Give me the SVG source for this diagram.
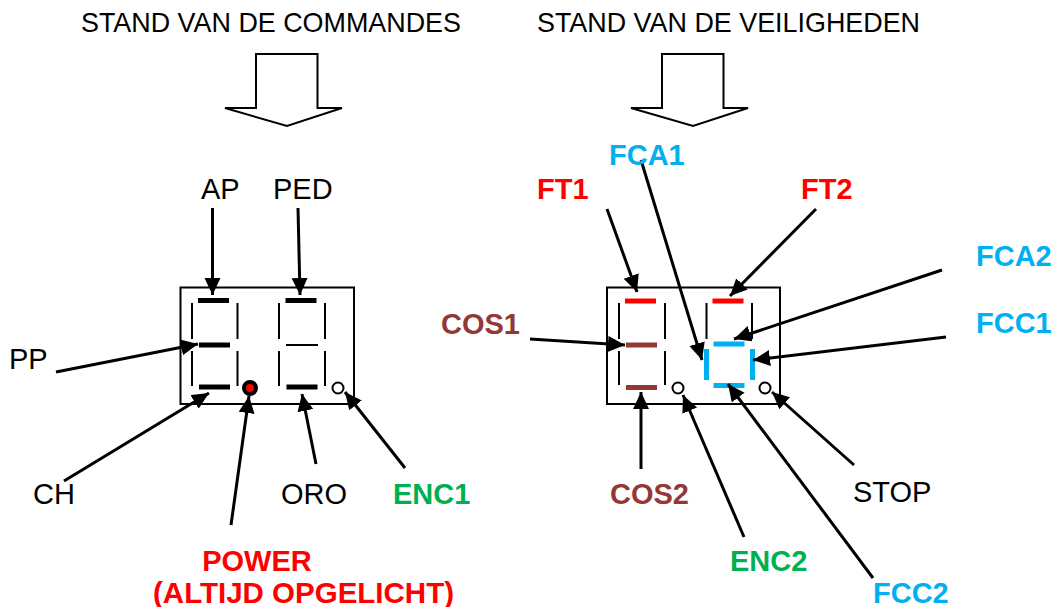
<svg xmlns="http://www.w3.org/2000/svg" width="1053" height="607" viewBox="0 0 1053 607">
<style>
text{font-family:"Liberation Sans",Arial,sans-serif;font-size:29px;fill:#000}
.t{font-size:26.900px}
.w{font-size:29.500px}
.b{font-weight:700}
.red{fill:#f00}.blue{fill:#00b0f0}.brown{fill:#953735}.green{fill:#00b050}
.box{fill:none;stroke:#000;stroke-width:2}
.out{fill:#fff;stroke:#000;stroke-width:2;stroke-linejoin:miter}
.thin{stroke:#000;stroke-width:2;fill:none}
.hs{stroke:#000;stroke-width:5;fill:none}
.hr{stroke:#f00;stroke-width:5;fill:none}
.hb{stroke:#953735;stroke-width:5;fill:none}
.hc{stroke:#00b0f0;stroke-width:5;fill:none}
.c{stroke:#000;stroke-width:3;fill:none;marker-end:url(#a)}
.dot{fill:#fff;stroke:#000;stroke-width:2}
</style>
<defs><marker id="a" markerUnits="userSpaceOnUse" markerWidth="20" markerHeight="20" refX="17" refY="8" orient="auto"><path d="M0 0L17 8L0 16z" fill="#000"/></marker></defs>
<g id="titles">
<text class="t" x="81" y="32">STAND VAN DE COMMANDES</text>
<text class="t" x="537" y="32">STAND VAN DE VEILIGHEDEN</text>
</g>
<g id="arrow-left"><path class="out" d="M256 54H317.500V108H342L287 126L225 108H256z"/></g>
<g id="arrow-right"><path class="out" d="M662 54H723.500V108H748L693 126L631 108H662z"/></g>
<g id="display-left">
<rect class="box" x="180.500" y="287.500" width="173.500" height="116.500"/>
<path class="thin" d="M192 303V339M192 351V386M237.500 303V339M237.500 351V386M279 303V339M279 351V386M325 303V339M325 351V386M286 345H318"/>
<path class="hs" d="M198 300.500H229M199 345H230M199 387H230M285.500 300.500H316.500M286.500 387H317.500"/>
<circle cx="250" cy="388" r="6" fill="#f00" stroke="#000" stroke-width="4"/>
<circle class="dot" cx="338" cy="388" r="5.500"/>
</g>
<g id="display-right">
<rect class="box" x="607" y="287.500" width="173" height="116.500"/>
<path class="thin" d="M619 303V339M619 351V385M665 303V339M665 351V385M706.500 303V339M752 303V339"/>
<path class="hr" d="M625 301H656M712.500 301H743.500"/>
<path class="hb" d="M626 345H657M626 387.500H657"/>
<path class="hc" d="M713.500 344H744.500M713.500 385.500H744.500"/>
<path d="M706.500 349V380M752.500 349V380" stroke="#00b0f0" stroke-width="5" fill="none"/>
<circle class="dot" cx="678" cy="388" r="5.500"/>
<circle class="dot" cx="765" cy="388" r="5.500"/>
</g>
<g id="connectors">
<path class="c" d="M212.500 208V295"/>
<path class="c" d="M298 208L300 295"/>
<path class="c" d="M56 372L198 344"/>
<path class="c" d="M64 481L209 393"/>
<path class="c" d="M231 525L249 396"/>
<path class="c" d="M316 464L302 394"/>
<path class="c" d="M405 468L345 392"/>
<path class="c" d="M607 209L637 292"/>
<path class="c" d="M641 160L702 360"/>
<path class="c" d="M816 209L730 296"/>
<path class="c" d="M942 270L734 339"/>
<path class="c" d="M946 337L753 360"/>
<path class="c" d="M530 339L625 345"/>
<path class="c" d="M641 469V392"/>
<path class="c" d="M744 537L683 395"/>
<path class="c" d="M873 578L728 384"/>
<path class="c" d="M854 465L772 392"/>
</g>
<g id="labels">
<text x="201" y="199">AP</text>
<text x="273" y="199">PED</text>
<text x="9" y="369">PP</text>
<text x="33" y="504">CH</text>
<text x="281" y="504">ORO</text>
<text class="b green" x="393" y="504">ENC1</text>
<text class="b red" x="257" y="571" text-anchor="middle">POWER</text>
<text class="b red w" x="303.500" y="603" text-anchor="middle">(ALTIJD OPGELICHT)</text>
<text class="b blue" x="609" y="165">FCA1</text>
<text class="b red" x="537" y="199">FT1</text>
<text class="b red" x="801" y="199">FT2</text>
<text class="b blue" x="976" y="266">FCA2</text>
<text class="b blue" x="976" y="333">FCC1</text>
<text class="b brown" x="441" y="334">COS1</text>
<text class="b brown" x="610" y="504">COS2</text>
<text x="853" y="502">STOP</text>
<text class="b green" x="730" y="571">ENC2</text>
<text class="b blue" x="873" y="603">FCC2</text>
</g>
</svg>
